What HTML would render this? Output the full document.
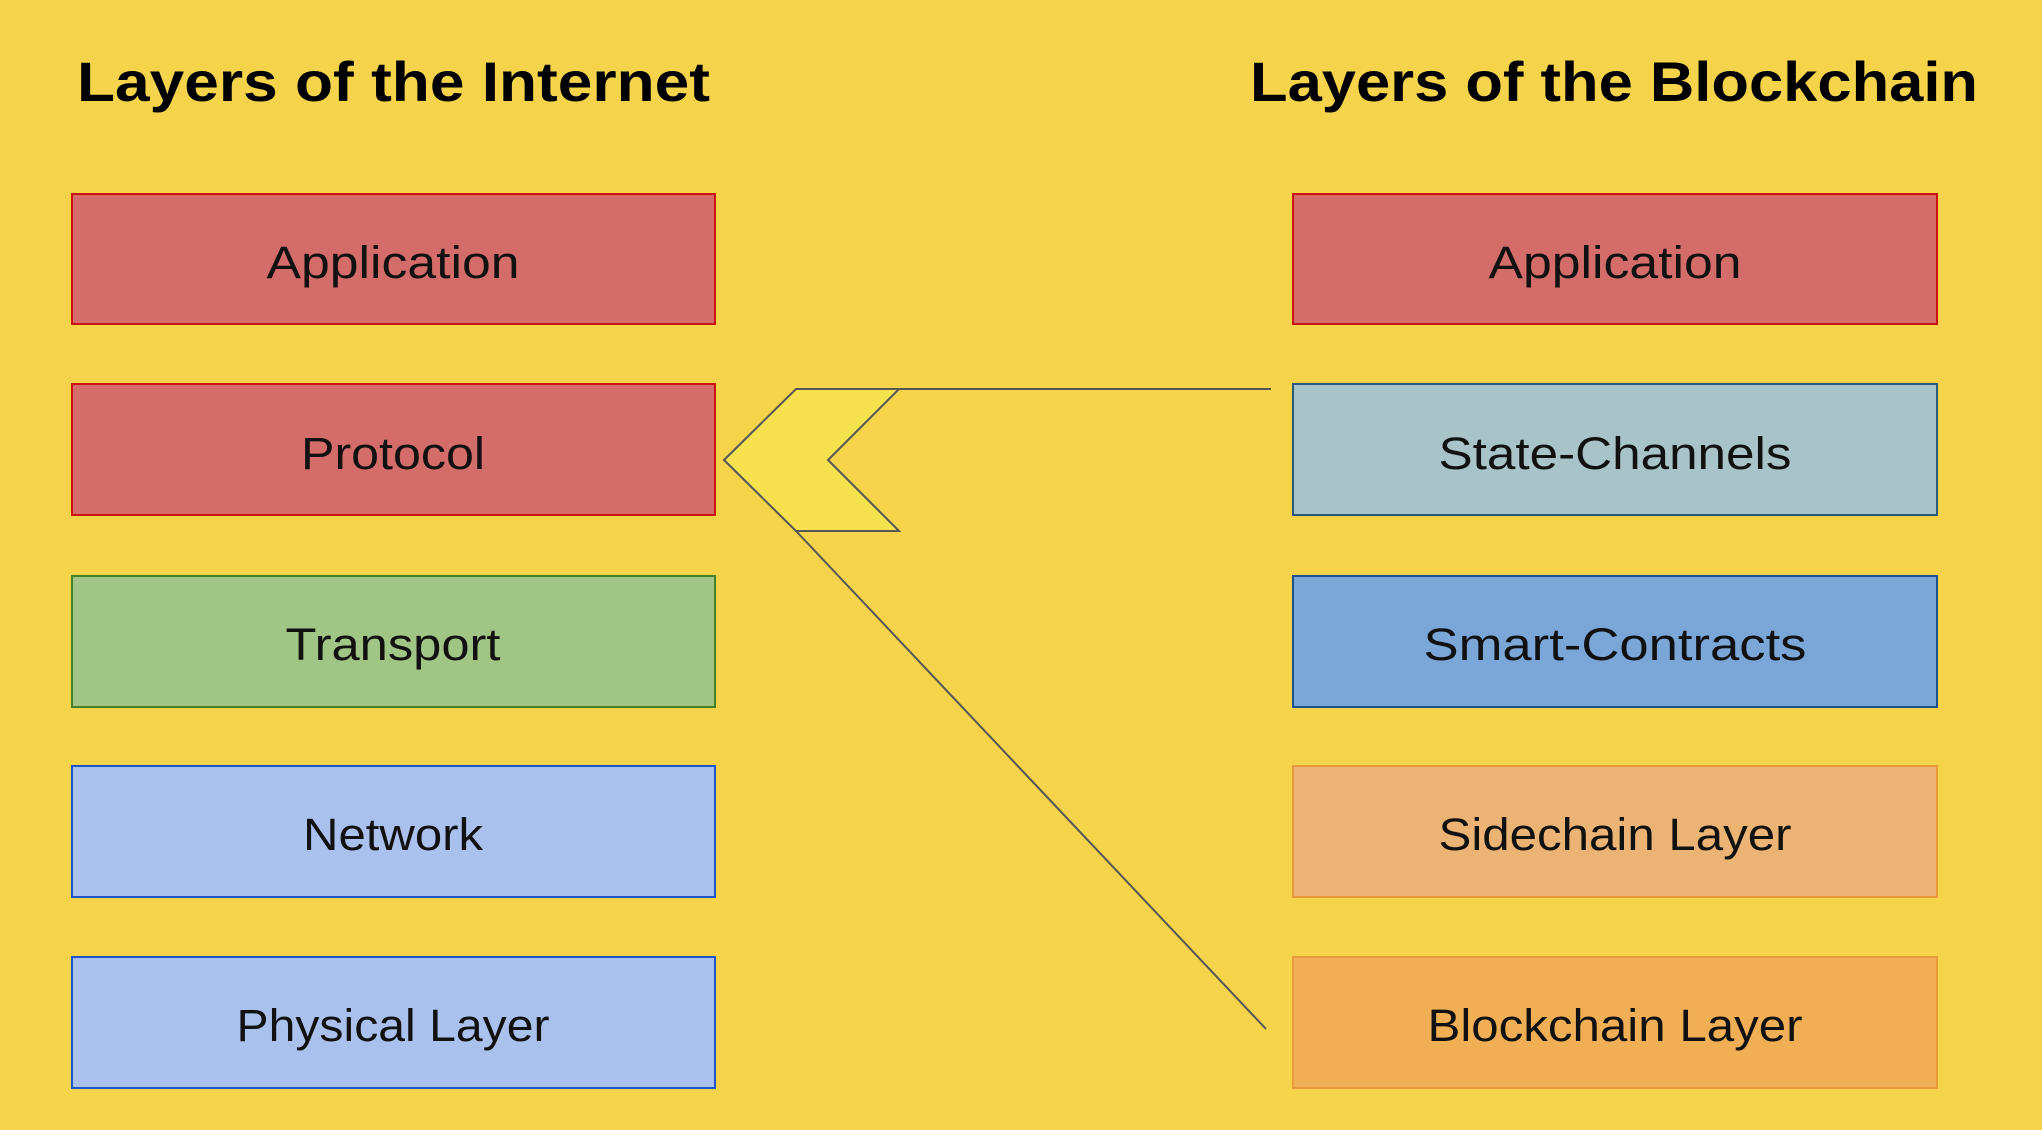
<!DOCTYPE html>
<html><head><meta charset="utf-8"><style>
html,body{margin:0;padding:0;background:#F5D34A;}
svg{display:block}
</style></head><body>
<svg width="2042" height="1130" viewBox="0 0 2042 1130" xmlns="http://www.w3.org/2000/svg">
<rect width="2042" height="1130" fill="#F5D34A"/>
<g font-family="Liberation Sans, sans-serif" font-weight="bold" font-size="56" fill="#000">
<text x="77" y="101" textLength="633" lengthAdjust="spacingAndGlyphs">Layers of the Internet</text>
<text x="1250" y="101" textLength="728" lengthAdjust="spacingAndGlyphs">Layers of the Blockchain</text>
</g>
<g stroke-width="2">
<rect x="72" y="194" width="643" height="130" fill="#D46D6A" stroke="#CC1111"/>
<rect x="72" y="384" width="643" height="131" fill="#D46D6A" stroke="#CC1111"/>
<rect x="72" y="576" width="643" height="131" fill="#A0C585" stroke="#4A7F25"/>
<rect x="72" y="766" width="643" height="131" fill="#AAC1EE" stroke="#2255CC"/>
<rect x="72" y="957" width="643" height="131" fill="#AAC1EE" stroke="#2255CC"/>
<rect x="1293" y="194" width="644" height="130" fill="#D46D6A" stroke="#CC1111"/>
<rect x="1293" y="384" width="644" height="131" fill="#A8C4C9" stroke="#2C5A7A"/>
<rect x="1293" y="576" width="644" height="131" fill="#7BA6D8" stroke="#1F4F8F"/>
<rect x="1293" y="766" width="644" height="131" fill="#ECB474" stroke="#E69A3A"/>
<rect x="1293" y="957" width="644" height="131" fill="#F0AF55" stroke="#E69A3A"/>
</g>
<g font-family="Liberation Sans, sans-serif" font-size="45" fill="#111" text-anchor="middle">
<text x="393" y="278" textLength="253" lengthAdjust="spacingAndGlyphs">Application</text>
<text x="393" y="469" textLength="184" lengthAdjust="spacingAndGlyphs">Protocol</text>
<text x="393" y="660" textLength="215" lengthAdjust="spacingAndGlyphs">Transport</text>
<text x="393" y="850" textLength="180" lengthAdjust="spacingAndGlyphs">Network</text>
<text x="393" y="1041" textLength="313" lengthAdjust="spacingAndGlyphs">Physical Layer</text>
<text x="1615" y="278" textLength="253" lengthAdjust="spacingAndGlyphs">Application</text>
<text x="1615" y="469" textLength="353" lengthAdjust="spacingAndGlyphs">State-Channels</text>
<text x="1615" y="660" textLength="383" lengthAdjust="spacingAndGlyphs">Smart-Contracts</text>
<text x="1615" y="850" textLength="353" lengthAdjust="spacingAndGlyphs">Sidechain Layer</text>
<text x="1615" y="1041" textLength="375" lengthAdjust="spacingAndGlyphs">Blockchain Layer</text>
</g>
<polygon points="796,389 899,389 828,460 899,531 796,531 724,460" fill="#F6E24E" stroke="#555" stroke-width="2"/>
<line x1="899" y1="389" x2="1271" y2="389" stroke="#555" stroke-width="2"/>
<line x1="796" y1="531" x2="1266" y2="1029" stroke="#555" stroke-width="2"/>
</svg>
</body></html>
